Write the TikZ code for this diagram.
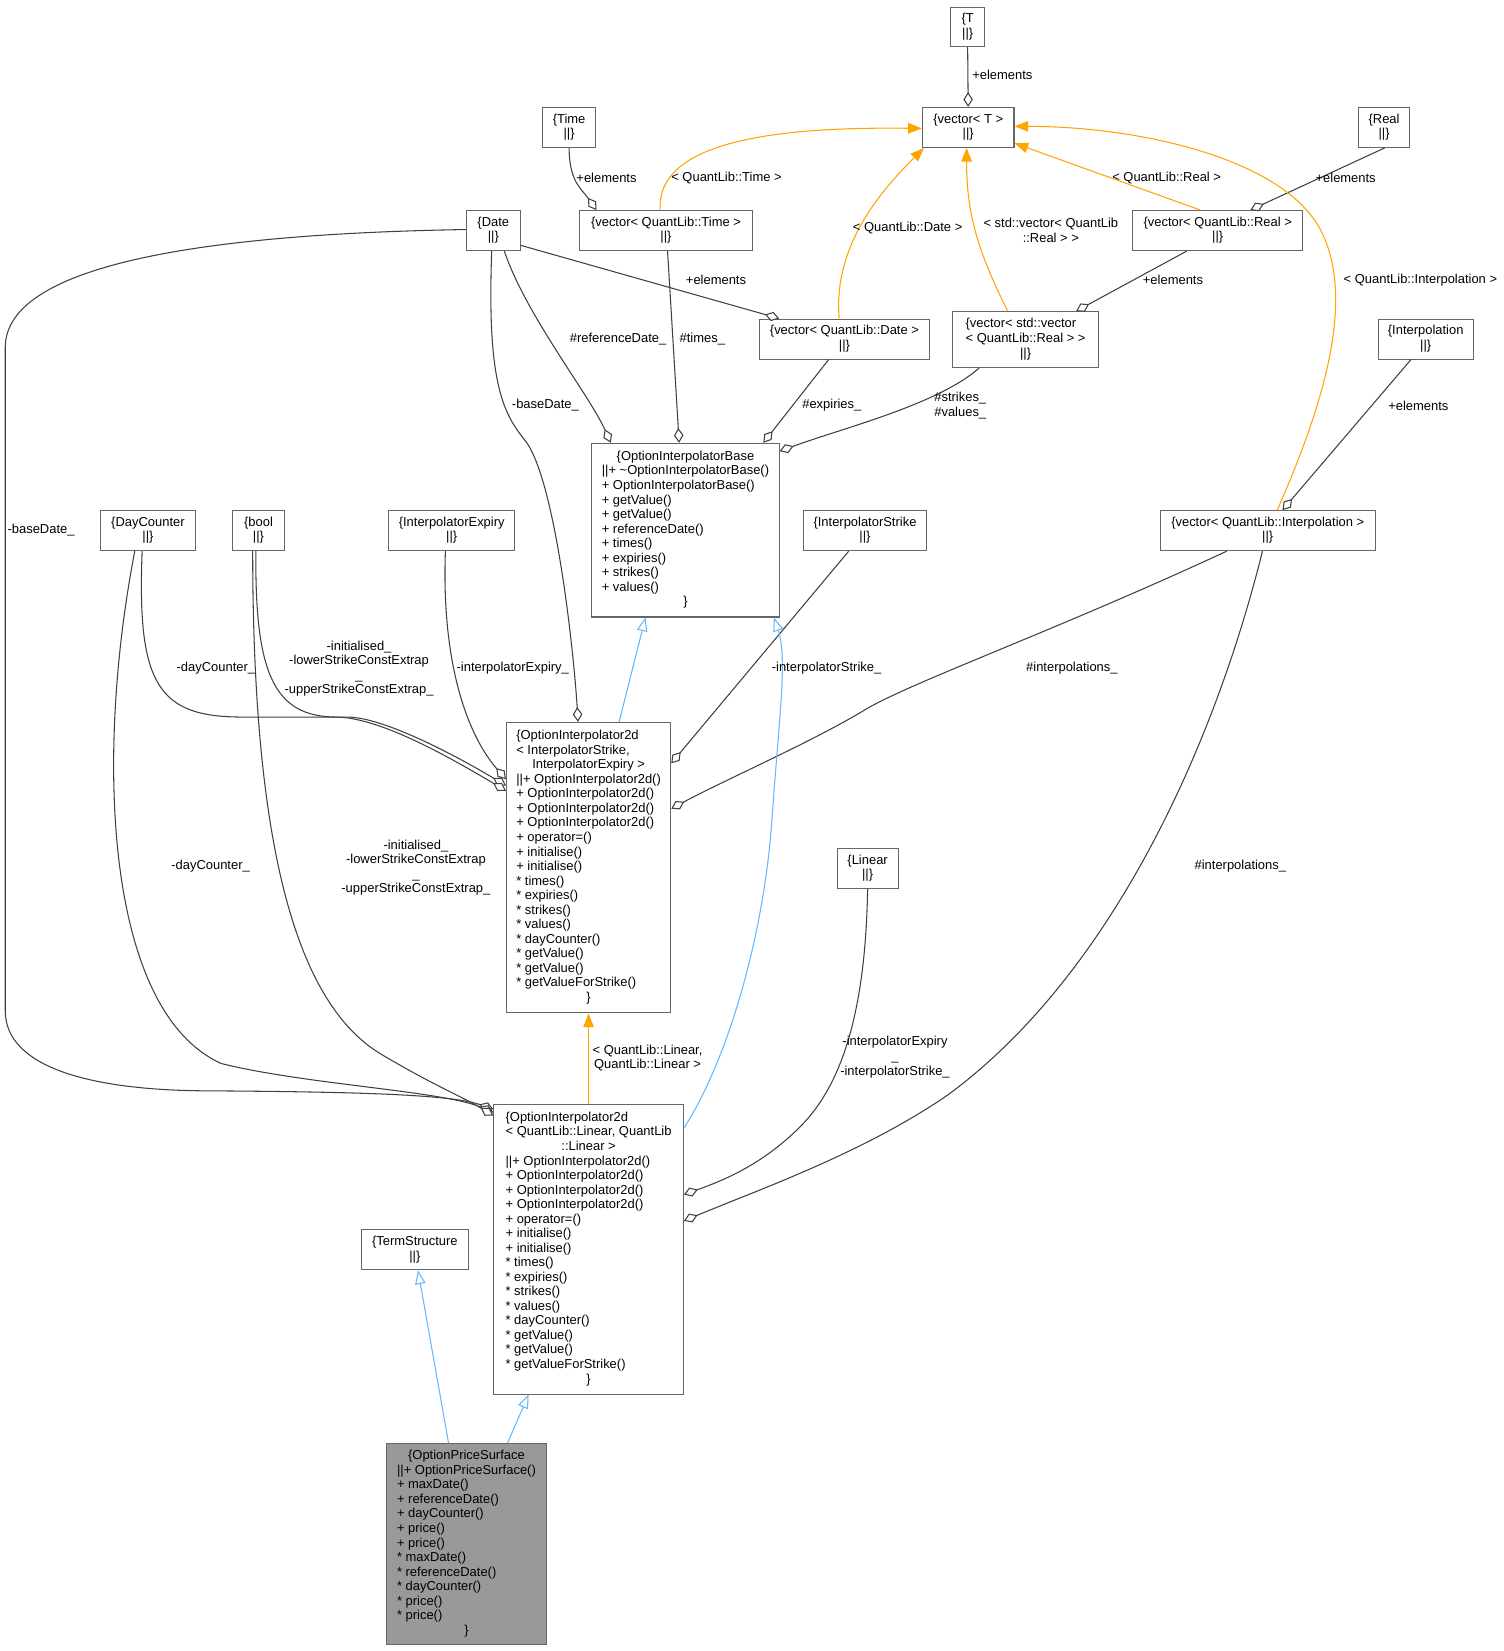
\documentclass[tikz,border=0pt]{standalone}
\usepackage{fontspec}
\setmainfont{Liberation Sans}
\usetikzlibrary{arrows.meta,calc}
\definecolor{edgegray}{HTML}{404040}
\definecolor{boxgray}{HTML}{666666}
\definecolor{inhblue}{HTML}{63B8FF}
\definecolor{tplorange}{HTML}{FFA500}
\definecolor{hlgray}{HTML}{999999}
\newcommand{\dfont}{\fontsize{6.15pt}{6.9pt}\selectfont}
\newcommand{\cl}[1]{\multicolumn{1}{@{}c@{}}{#1}}
\newcommand{\twol}[1]{\begin{tabular}{@{}c@{}}\{#1\\ ||\}\end{tabular}}
\newcommand{\cbox}[7][]{\node[cls,#1,minimum width={#5*0.5pt},minimum height={#6*0.5pt}] (#2) at (#3,#4) {#7};}
\begin{document}
\begin{tikzpicture}[x=0.5pt,y=-0.5pt,
 cls/.style={draw=boxgray,line width=0.5pt,fill=white,inner sep=0pt,font=\dfont,text=black},
 lbl/.style={font=\dfont,inner sep=0pt,align=center,text=black},
 agg/.style={draw=edgegray,line width=0.5pt,-{Diamond[length=7pt,width=4.5pt,fill=white]}},
 inh/.style={draw=inhblue,line width=0.5pt,-{Triangle[length=6.5pt,width=5pt,fill=white]}},
 tpl/.style={draw=tplorange,line width=0.5pt,-{Triangle[length=6.5pt,width=5pt,fill=tplorange]}}]
\fill[white] (0,0) rectangle (1428,1568);
\useasboundingbox (0,0) rectangle (1428,1568);
% ---- boxes
\cbox{T}{919}{25.5}{32}{37}{\twol{T}}
\cbox{vecT}{919.5}{121}{87}{38}{\twol{vector< T >}}
\cbox{Time}{540.5}{121}{51}{38}{\twol{Time}}
\cbox{Real}{1314.5}{121}{49}{38}{\twol{Real}}
\cbox{Date}{468.5}{219}{51}{38}{\twol{Date}}
\cbox{vecTime}{632.5}{219}{165}{38}{\twol{vector< QuantLib::Time >}}
\cbox{vecReal}{1156.5}{219}{161}{38}{\twol{vector< QuantLib::Real >}}
\cbox{vecDate}{802}{322}{162}{38}{\twol{vector< QuantLib::Date >}}
\cbox{vecVec}{974}{322.5}{138}{53}{\begin{tabular}{@{}l@{}}\{vector< std::vector\\ < QuantLib::Real > >\\ \cl{||\}}\end{tabular}}
\cbox{Interp}{1354}{322}{90}{38}{\twol{Interpolation}}
\cbox{OIB}{651}{503.5}{178}{165}{\begin{tabular}{@{}l@{}}\cl{\{OptionInterpolatorBase}\\
||+ \textasciitilde OptionInterpolatorBase()\\
+ OptionInterpolatorBase()\\
+ getValue()\\
+ getValue()\\
+ referenceDate()\\
+ times()\\
+ expiries()\\
+ strikes()\\
+ values()\\
\cl{\}}\end{tabular}}
\cbox{DC}{140.5}{504}{91}{38}{\twol{DayCounter}}
\cbox{bool}{245.5}{504}{49}{38}{\twol{bool}}
\cbox{IExp}{429}{504}{120}{38}{\twol{InterpolatorExpiry}}
\cbox{IStr}{821.5}{504}{117}{38}{\twol{InterpolatorStrike}}
\cbox{vecInterp}{1204}{504}{204}{38}{\twol{vector< QuantLib::Interpolation >}}
\cbox{OIA}{559}{824}{156}{276}{\begin{tabular}{@{}l@{}}\{OptionInterpolator2d\\
< InterpolatorStrike,\\
\cl{InterpolatorExpiry >}\\
||+ OptionInterpolator2d()\\
+ OptionInterpolator2d()\\
+ OptionInterpolator2d()\\
+ OptionInterpolator2d()\\
+ operator=()\\
+ initialise()\\
+ initialise()\\
{*} times()\\
{*} expiries()\\
{*} strikes()\\
{*} values()\\
{*} dayCounter()\\
{*} getValue()\\
{*} getValue()\\
{*} getValueForStrike()\\
\cl{\}}\end{tabular}}
\cbox{Linear}{824}{825}{58}{38}{\twol{Linear}}
\cbox{OIB2}{559}{1186.5}{180}{275}{\begin{tabular}{@{}l@{}}\{OptionInterpolator2d\\
< QuantLib::Linear, QuantLib\\
\cl{::Linear >}\\
||+ OptionInterpolator2d()\\
+ OptionInterpolator2d()\\
+ OptionInterpolator2d()\\
+ OptionInterpolator2d()\\
+ operator=()\\
+ initialise()\\
+ initialise()\\
{*} times()\\
{*} expiries()\\
{*} strikes()\\
{*} values()\\
{*} dayCounter()\\
{*} getValue()\\
{*} getValue()\\
{*} getValueForStrike()\\
\cl{\}}\end{tabular}}
\cbox{TS}{394}{1187}{102}{38}{\twol{TermStructure}}
\cbox[fill=hlgray]{OPS}{443}{1466.5}{152}{191}{\begin{tabular}{@{}l@{}}\cl{\{OptionPriceSurface}\\
||+ OptionPriceSurface()\\
+ maxDate()\\
+ referenceDate()\\
+ dayCounter()\\
+ price()\\
+ price()\\
{*} maxDate()\\
{*} referenceDate()\\
{*} dayCounter()\\
{*} price()\\
{*} price()\\
\cl{\}}\end{tabular}}
% ---- connectors
\draw[agg] (T.south) -- (vecT.north);
\draw[agg] (Time.south) .. controls +(0,32) and +(-14,-20) .. ($(vecTime.north)+(-66,0)$);
\draw[tpl] ($(vecTime.north)+(-5.5,0)$) .. controls +(-4,-62) and +(-150,-2) .. ($(vecT.west)+(0,1)$);
\draw[agg] ($(Date.east)+(0,14)$) -- ($(vecDate.north)+(-62,0)$);
\draw[tpl] ($(vecDate.north)+(-5,0)$) .. controls +(-6,-70) and +(-40,40) .. ($(vecT.south west)+(2,0)$);
\draw[tpl] ($(vecVec.north)+(-17,0)$) .. controls +(-30,-60) and +(0,60) .. ($(vecT.south)+(-1.5,0)$);
\draw[agg] ($(Real.south)+(0.5,0)$) -- ($(vecReal.north)+(31,0)$);
\draw[tpl] ($(vecReal.north)+(-16.5,0)$) -- ($(vecT.east)+(0,15)$);
\draw[agg] ($(vecReal.south)+(-29.5,0)$) -- ($(vecVec.north)+(48,0)$);
\draw[tpl] ($(vecInterp.north)+(9,0)$) .. controls (1250,400) and (1290,290) .. (1255,220) .. controls (1220,150) and (1080,120) .. ($(vecT.east)+(0,-1)$);
\draw[agg] ($(Interp.south)+(-14,0)$) -- ($(vecInterp.north)+(14,0)$);
\draw[agg] ($(Date.south)+(10.5,0)$) .. controls +(20,60) and +(-20,-45) .. ($(OIB.north)+(-71,0)$);
\draw[agg] ($(vecTime.south)+(1.5,0)$) -- ($(OIB.north)+(-6,0)$);
\draw[agg] ($(vecDate.south)+(-15,0)$) -- ($(OIB.north)+(74,0)$);
\draw[agg] ($(vecVec.south)+(-44,0)$) .. controls +(-40,35) and +(60,-22) .. ($(OIB.north east)+(0,8)$);
\draw[agg] ($(Date.south)+(-1.5,0)$) .. controls (462,370) and (480,395) .. (500,420) .. controls (528,460) and (545,620) .. ($(OIA.north)+(-10,0)$);
\draw[agg] ($(Date.west)+(0,-1)$) .. controls (200,222) and (5,250) .. (5,330) -- (5,960) .. controls (5,1015) and (90,1036) .. (200,1036) .. controls (350,1037) and (430,1040) .. ($(OIB2.north west)+(0,5)$);
\draw[agg] ($(DC.south)+(-5.5,0)$) .. controls (130,650) and (150,681) .. (230,681) -- (330,681) .. controls (360,681) and (420,710) .. ($(OIA.west)+(0,-78)$);
\draw[agg] ($(bool.south)+(-2.5,0)$) .. controls (242,640) and (260,681) .. (320,681) .. controls (360,682) and (420,715) .. ($(OIA.west)+(0,-73)$);
\draw[agg] ($(IExp.south)+(-6,0)$) .. controls +(-4,110) and +(-35,-40) .. ($(OIA.west)+(0,-84)$);
\draw[agg] ($(DC.south)+(-12.5,0)$) .. controls (90,720) and (100,960) .. (210,1010) .. controls (290,1030) and (420,1036) .. ($(OIB2.west)+(0,-130)$);
\draw[agg] ($(bool.south)+(-5.5,0)$) .. controls (240,800) and (280,950) .. (360,1000) .. controls (410,1030) and (440,1042) .. ($(OIB2.west)+(0,-127)$);
\draw[agg] ($(IStr.south)+(-15.5,0)$) -- ($(OIA.east)+(0,-99)$);
\draw[agg] ($(vecInterp.south)+(-39,0)$) .. controls (1000,600) and (860,650) .. (820,675) .. controls (770,705) and (690,740) .. ($(OIA.east)+(0,-56)$);
\draw[agg] ($(vecInterp.south)+(-5,0)$) .. controls (1150,720) and (1050,930) .. (900,1040) .. controls (820,1095) and (720,1130) .. ($(OIB2.east)+(0,-27)$);
\draw[agg] (Linear.south) .. controls (822,960) and (800,1030) .. (760,1070) .. controls (725,1105) and (690,1120) .. ($(OIB2.east)+(0,-52)$);
\draw[inh] ($(OIA.north)+(29,0)$) -- ($(OIB.south)+(-38,0)$);
\draw[inh] ($(OIB2.north east)+(0,23)$) .. controls (695,1000) and (726,880) .. (733,780) .. controls (740,680) and (748,625) .. ($(OIB.south)+(84,0)$);
\draw[tpl] (OIB2.north) -- (OIA.south);
\draw[inh] ($(OPS.north)+(-17,0)$) -- ($(TS.south)+(3,0)$);
\draw[inh] ($(OPS.north)+(39,0)$) -- ($(OIB2.south)+(-57,0)$);
% ---- labels
\node[lbl] (l1) at (952,71) {+elements};
\node[lbl] (l2) at (576,169) {+elements};
\node[lbl] (l3) at (690,169) {< QuantLib::Time >};
\node[lbl] (l4) at (680,266) {+elements};
\node[lbl] (l5) at (862,217) {< QuantLib::Date >};
\node[lbl] (l6) at (998,219) {< std::vector< QuantLib\\::Real > >};
\node[lbl] (l7) at (1108,169) {< QuantLib::Real >};
\node[lbl] (l8) at (1278,169) {+elements};
\node[lbl] (l9) at (1114,266) {+elements};
\node[lbl] (l10) at (1349,266) {< QuantLib::Interpolation >};
\node[lbl] (l11) at (1347,385) {+elements};
\node[lbl] (l12) at (587,322) {\#referenceDate\_};
\node[lbl] (l13) at (667,322) {\#times\_};
\node[lbl] (l14) at (790,385) {\#expiries\_};
\node[lbl] (l15) at (912,385) {\#strikes\_\\\#values\_};
\node[lbl] (l16) at (518,385) {-baseDate\_};
\node[lbl] (l17) at (39,503) {-baseDate\_};
\node[lbl] (l18) at (205,635) {-dayCounter\_};
\node[lbl] (l19) at (341,635) {-initialised\_\\-lowerStrikeConstExtrap\\\_\\-upperStrikeConstExtrap\_};
\node[lbl] (l20) at (487,635) {-interpolatorExpiry\_};
\node[lbl] (l21) at (785,635) {-interpolatorStrike\_};
\node[lbl] (l22) at (1018,635) {\#interpolations\_};
\node[lbl] (l23) at (200,823) {-dayCounter\_};
\node[lbl] (l24) at (395,824) {-initialised\_\\-lowerStrikeConstExtrap\\\_\\-upperStrikeConstExtrap\_};
\node[lbl] (l25) at (850,1004) {-interpolatorExpiry\\\_\\-interpolatorStrike\_};
\node[lbl] (l26) at (1178,823) {\#interpolations\_};
\node[lbl] (l27) at (615,1005) {< QuantLib::Linear,\\QuantLib::Linear >};
\end{tikzpicture}
\end{document}
